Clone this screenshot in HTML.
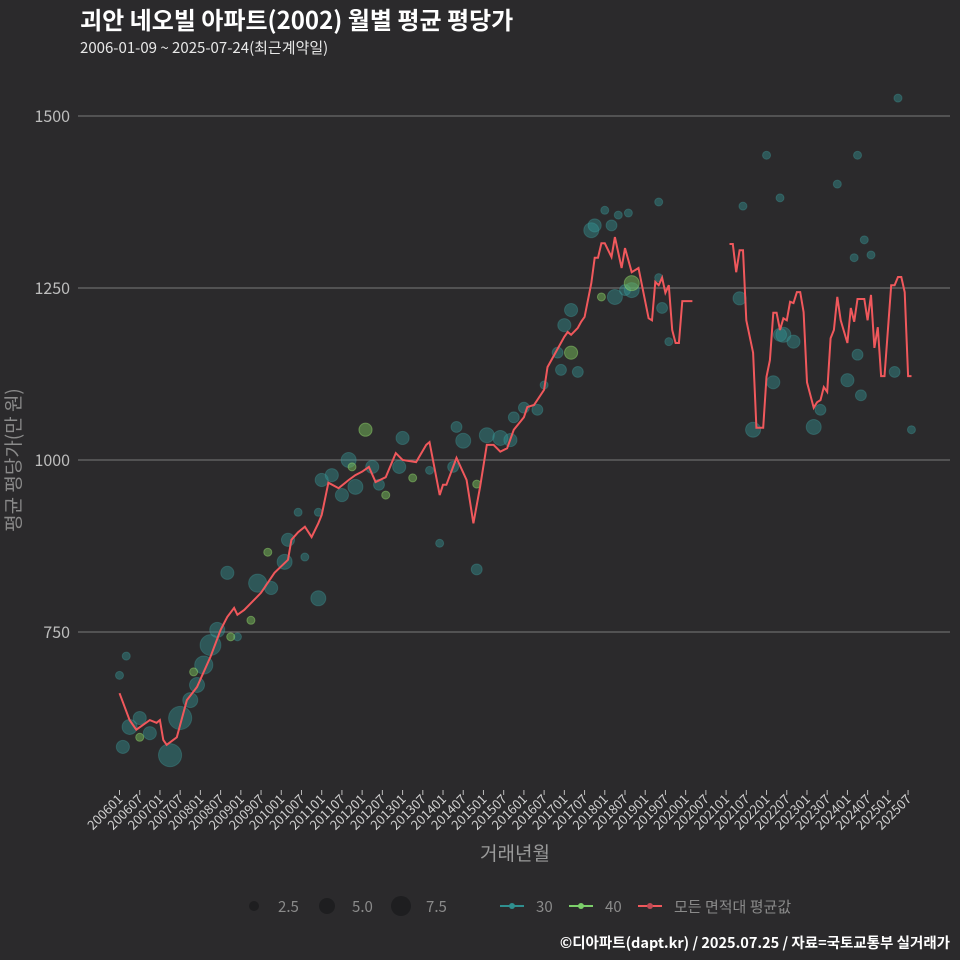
<!DOCTYPE html>
<html><head><meta charset="utf-8"><style>
body{margin:0;background:#2b2a2c;}
svg{display:block;font-family:"Noto Sans CJK KR","Liberation Sans",sans-serif;}
</style></head><body>
<svg id="chart" width="960" height="960" viewBox="0 0 960 960">
<rect width="960" height="960" fill="#2b2a2c"/>
<text x="80" y="29" fill="#ffffff" font-size="24" font-weight="bold">괴안 네오빌 아파트(2002) 월별 평균 평당가</text>
<text x="80" y="53" fill="#e8e8e8" font-size="15">2006-01-09 ~ 2025-07-24(최근계약일)</text>
<g id="grid"></g>
<g id="bubbles"></g>
<path id="avgline" fill="none" stroke="#f0585c" stroke-width="2"/>
<g id="xaxis"></g>
<text x="515" y="860" fill="#9a9a9a" font-size="19" text-anchor="middle">거래년월</text>
<text transform="translate(15,460) rotate(-90)" dominant-baseline="middle" fill="#8a8a8a" font-size="19" text-anchor="middle">평균 평당가(만 원)</text>
<g>
<circle cx="254" cy="906" r="5" fill="#1e1e20"/>
<text x="278" y="912" fill="#8a8a8a" font-size="15">2.5</text>
<circle cx="327" cy="906" r="8" fill="#1e1e20"/>
<text x="352" y="912" fill="#8a8a8a" font-size="15">5.0</text>
<circle cx="401" cy="906" r="10" fill="#1e1e20"/>
<text x="426" y="912" fill="#8a8a8a" font-size="15">7.5</text>
<line x1="500" y1="906" x2="524" y2="906" stroke="#2f8f8f" stroke-width="2"/>
<circle cx="512" cy="906" r="3" fill="#2f8f8f"/>
<text x="536" y="912" fill="#8a8a8a" font-size="15">30</text>
<line x1="569" y1="906" x2="593" y2="906" stroke="#7ccf6a" stroke-width="2"/>
<circle cx="581" cy="906" r="3" fill="#7ccf6a"/>
<text x="605" y="912" fill="#8a8a8a" font-size="15">40</text>
<line x1="638" y1="906" x2="662" y2="906" stroke="#f0585c" stroke-width="2"/>
<circle cx="650" cy="906" r="3" fill="#c04a55"/>
<text x="674" y="912" fill="#8a8a8a" font-size="15">모든 면적대 평균값</text>
</g>
<text x="950" y="948" fill="#ffffff" font-size="14.5" font-weight="bold" text-anchor="end">©디아파트(dapt.kr) / 2025.07.25 / 자료=국토교통부 실거래가</text>
</svg>
<script>
const yTicks=[750,1000,1250,1500];
const xTickLabels=[];
for(let y=2006;y<=2025;y++){xTickLabels.push(y+"01");xTickLabels.push(y+"07");}
const lineMonths=[0,3,5,9,11,12,13,14,17,20,23,27,30,32,34,35,37,40,42,46,50,51,53,55,57,59,60,62,65,68,70,72,74,76,79,82,84,88,91,92,95,96,97,99,100,103,105,107,109,111,113,115,117,120,121,123,126,127,132,133,134,136,137,138,140,141,142,143,144,146,147,149,150,152,154,157,158,159,160,161,162,163,164,165,166,167,170,175,181,182,183,184,185,186,188,189,191,192,193,194,195,196,197,198,199,200,201,202,203,204,206,207,208,209,210,211,212,213,214,216,217,218,219,221,222,223,224,225,226,227,229,230,231,232,233,234,235];
const lineValues=[661,622,608,622,618,622,593,586,597,651,670,714,753,772,785,775,782,797,807,836,855,884,895,903,888,908,920,967,959,971,978,983,990,968,975,1010,1000,997,1022,1026,949,964,964,990,1003,971,908,961,1022,1022,1012,1017,1044,1062,1077,1080,1102,1135,1179,1186,1182,1192,1201,1208,1257,1294,1294,1315,1315,1295,1324,1279,1308,1273,1279,1206,1203,1259,1254,1265,1243,1254,1189,1170,1170,1231,1231,null,1314,1314,1273,1305,1305,1203,1156,1047,1047,1121,1145,1214,1214,1189,1206,1203,1230,1228,1244,1244,1215,1113,1076,1084,1087,1106,1099,1177,1189,1237,1203,1170,1221,1201,1234,1234,1203,1240,1163,1193,1122,1122,1254,1254,1266,1266,1244,1122,1122];
const b30Months=[1,0,2,3,6,9,15,18,21,23,25,27,29,32,41,45,49,50,55,59,60,63,66,68,70,75,77,83,84,92,99,102,100,106,109,113,116,117,120,124,126,130,131,132,134,136,140,141,146,147,152,150,161,160,184,188,194,196,197,200,206,208,216,219,220,230,231,235,185,192,196,213,219,221,218,223,160,144,148,151,95,59,53,35,163];
const b30Values=[583,687,715,612,625,603,571,625,651,673,702,731,753,836,821,814,852,884,859,799,971,978,949,1000,961,990,964,990,1032,985,990,1028,1048,841,1036,1032,1029,1062,1076,1073,1109,1156,1131,1196,1218,1128,1334,1341,1341,1237,1247,1247,1221,1265,1235,1044,1113,1182,1182,1172,1048,1073,1116,1153,1094,1128,1526,1044,1369,1443,1381,1401,1443,1320,1294,1298,1375,1363,1356,1359,879,924,924,743,1172];
const b30Counts=[3,1,1,4,3,3,10,10,4,4,6,8,4,3,6,3,4,3,1,4,3,3,3,4,4,3,2,3,3,1,2,4,2,2,4,4,3,2,2,2,1,2,2,3,3,2,4,3,2,4,4,2,2,1,3,4,3,3,4,3,4,2,3,2,2,2,1,1,1,1,1,1,1,1,1,1,1,1,1,1,1,1,1,1,1];
const b40Months=[73,134,152,44,33,39,79,87,143,22,6,69,106];
const b40Values=[1044,1156,1257,866,743,767,949,974,1237,692,597,990,965];
const b40Counts=[3,3,4,1,1,1,1,1,1,1,1,1,1];

const NS="http://www.w3.org/2000/svg";
function xs(m){return 119.5+m*3.37;}
function ys(v){return 460-(v-1000)*0.688;}
function rs(n){return 3.5*Math.sqrt(n)+0.5;}
const grid=document.getElementById('grid');
yTicks.forEach(t=>{
 const l=document.createElementNS(NS,'line');
 l.setAttribute('x1',78);l.setAttribute('x2',950);l.setAttribute('y1',ys(t));l.setAttribute('y2',ys(t));
 l.setAttribute('stroke','#7a7a7a');l.setAttribute('stroke-width','1');
 
 
 grid.appendChild(l);
 const tx=document.createElementNS(NS,'text');
 tx.setAttribute('x',70);tx.setAttribute('y',ys(t)+6);tx.setAttribute('text-anchor','end');
 tx.setAttribute('fill','#bdbdbd');tx.setAttribute('font-size','16');tx.textContent=t;
 
 
 grid.appendChild(tx);
});
const xa=document.getElementById('xaxis');
xTickLabels.forEach((lab,i)=>{
 const x=xs(i*6);
 const tk=document.createElementNS(NS,'line');
 tk.setAttribute('x1',x);tk.setAttribute('x2',x);tk.setAttribute('y1',790);tk.setAttribute('y2',795);
 tk.setAttribute('stroke','#bbb');
 
 
 xa.appendChild(tk);
 const t=document.createElementNS(NS,'text');
 t.setAttribute('transform','translate('+(x+4)+',800) rotate(-45)');
 t.setAttribute('text-anchor','end');t.setAttribute('fill','#d0d0d0');t.setAttribute('font-size','13');
 t.textContent=lab;
 
 
 xa.appendChild(t);
});
const bg=document.getElementById('bubbles');
function drawB(ms,vs,ns,fill,stroke,name){
 ms.forEach((m,i)=>{
  const c=document.createElementNS(NS,'circle');
  c.setAttribute('cx',xs(m));c.setAttribute('cy',ys(vs[i]));c.setAttribute('r',rs(ns[i]));
  c.setAttribute('fill',fill);c.setAttribute('stroke',stroke);c.setAttribute('stroke-width','1');
  
  
  bg.appendChild(c);
 });
}
drawB(b30Months,b30Values,b30Counts,'rgba(50,150,150,0.42)','rgba(70,170,170,0.3)','bubble-30');
drawB(b40Months,b40Values,b40Counts,'rgba(120,190,90,0.5)','rgba(150,220,110,0.45)','bubble-40');
let d='',pen=false;
lineMonths.forEach((m,i)=>{
 const v=lineValues[i];
 if(v===null){pen=false;return;}
 d+=(pen?'L':'M')+xs(m).toFixed(1)+' '+ys(v).toFixed(1);pen=true;
});
document.getElementById('avgline').setAttribute('d',d);
</script>
</body></html>
